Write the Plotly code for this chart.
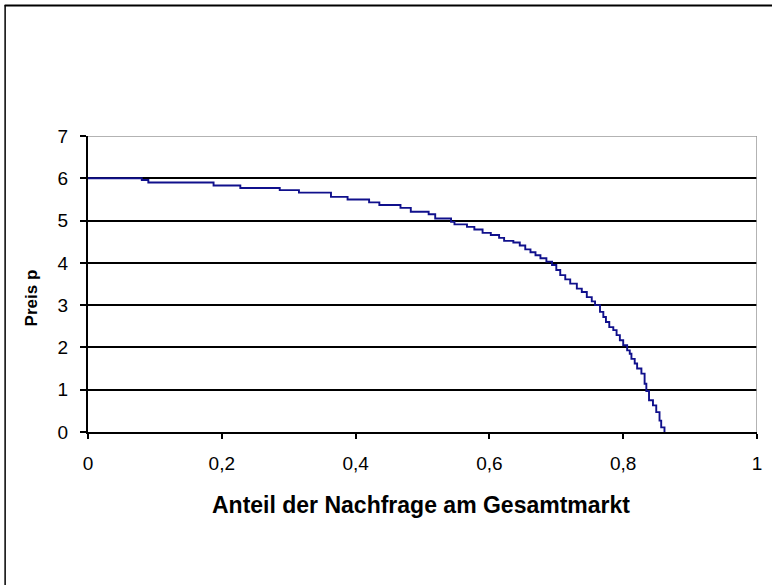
import plotly.graph_objects as go

# Data: step demand curve (share of demand vs. price)
anteil = [0, 0.0804, 0.0902, 0.1877, 0.2277, 0.2866, 0.3153, 0.3632, 0.3880, 0.4202,
          0.4355, 0.4671, 0.4825, 0.5092, 0.5190, 0.5427, 0.5478, 0.5665, 0.5775, 0.5898,
          0.6021, 0.6145, 0.6220, 0.6358, 0.6454, 0.6536, 0.6614, 0.6689, 0.6763, 0.6852,
          0.6936, 0.7000, 0.7059, 0.7134, 0.7208, 0.7307, 0.7381, 0.7456, 0.7530, 0.7579,
          0.7653, 0.7703, 0.7742, 0.7792, 0.7852, 0.7901, 0.7950, 0.8000, 0.8059, 0.8098,
          0.8123, 0.8172, 0.8208, 0.8272, 0.8320, 0.8346, 0.8386, 0.8445, 0.8494, 0.8543,
          0.8568, 0.8617]
preis = [6.00, 5.96, 5.90, 5.83, 5.77, 5.72, 5.66, 5.56, 5.50, 5.43,
         5.37, 5.30, 5.21, 5.15, 5.05, 4.97, 4.91, 4.85, 4.79, 4.71,
         4.66, 4.59, 4.52, 4.48, 4.41, 4.32, 4.25, 4.18, 4.11, 4.03,
         3.95, 3.83, 3.71, 3.61, 3.51, 3.39, 3.31, 3.19, 3.09, 3.00,
         2.84, 2.72, 2.60, 2.48, 2.41, 2.29, 2.17, 2.05, 1.93, 1.85,
         1.73, 1.62, 1.50, 1.38, 1.14, 0.97, 0.75, 0.63, 0.47, 0.27,
         0.11, 0]

x_ticks = [0, 0.2, 0.4, 0.6, 0.8, 1]
y_ticks = [0, 1, 2, 3, 4, 5, 6, 7]
x_title = "Anteil der Nachfrage am Gesamtmarkt"
y_title = "Preis p"

W, H = 772, 585
L, R, T, B = 88, 10, 136, 153
pw, ph = W - L - R, H - T - B

def px(x):
    return (x - L) / pw

def py(y):
    return (H - B - y) / ph

FONT = "Liberation Sans, Arial, sans-serif"

fig = go.Figure()
fig.add_trace(go.Scatter(
    x=anteil, y=preis, mode="lines", line_shape="hv",
    line=dict(color="#10108c", width=1.9), showlegend=False, hoverinfo="skip"))

fig.update_layout(
    width=W, height=H,
    margin=dict(l=L, r=R, t=T, b=B),
    paper_bgcolor="white", plot_bgcolor="white",
    separators=",.",
    font=dict(family=FONT, color="black", size=19),
    xaxis=dict(range=[0, 1], tickvals=x_ticks, ticktext=[f"{v:g}".replace(".", ",") for v in x_ticks],
               showgrid=False, zeroline=False, showline=True, linecolor="black", linewidth=2,
               ticks="outside", ticklen=5, tickwidth=1.5, tickcolor="black",
               ticklabelstandoff=8, tickfont=dict(size=19, family=FONT)),
    yaxis=dict(range=[0, 7], tickvals=y_ticks, showgrid=True, gridcolor="black", gridwidth=1.7,
               zeroline=False, showline=True, linecolor="black", linewidth=2,
               ticks="outside", ticklen=6, tickwidth=1.5, tickcolor="black",
               ticklabelstandoff=8, tickfont=dict(size=19, family=FONT)),
    shapes=[
        dict(type="line", xref="x", yref="y", x0=0, x1=1, y0=7, y1=7,
             line=dict(color="#9a9a9a", width=1.5), layer="above"),
        dict(type="line", xref="x", yref="y", x0=1, x1=1, y0=0, y1=7,
             line=dict(color="#9a9a9a", width=1.5), layer="above"),
        dict(type="line", xref="paper", yref="paper", x0=px(4), x1=px(780), y0=py(5.5), y1=py(5.5),
             line=dict(color="black", width=2)),
        dict(type="line", xref="paper", yref="paper", x0=px(4.5), x1=px(4.5), y0=py(5), y1=py(600),
             line=dict(color="black", width=1.5)),
    ],
    annotations=[
        dict(text=f"<b>{x_title}</b>", xref="paper", yref="paper", x=px(423), y=py(505),
             showarrow=False, xanchor="center", yanchor="middle",
             font=dict(size=23, family=FONT, color="black")),
        dict(text=f"<b>{y_title}</b>", xref="paper", yref="paper", x=px(31), y=py(298),
             showarrow=False, xanchor="center", yanchor="middle", textangle=-90,
             font=dict(size=17, family=FONT, color="black")),
    ],
)

fig.write_html("out.html", config={"displayModeBar": False},
               post_script="document.body.style.margin='0px';")
